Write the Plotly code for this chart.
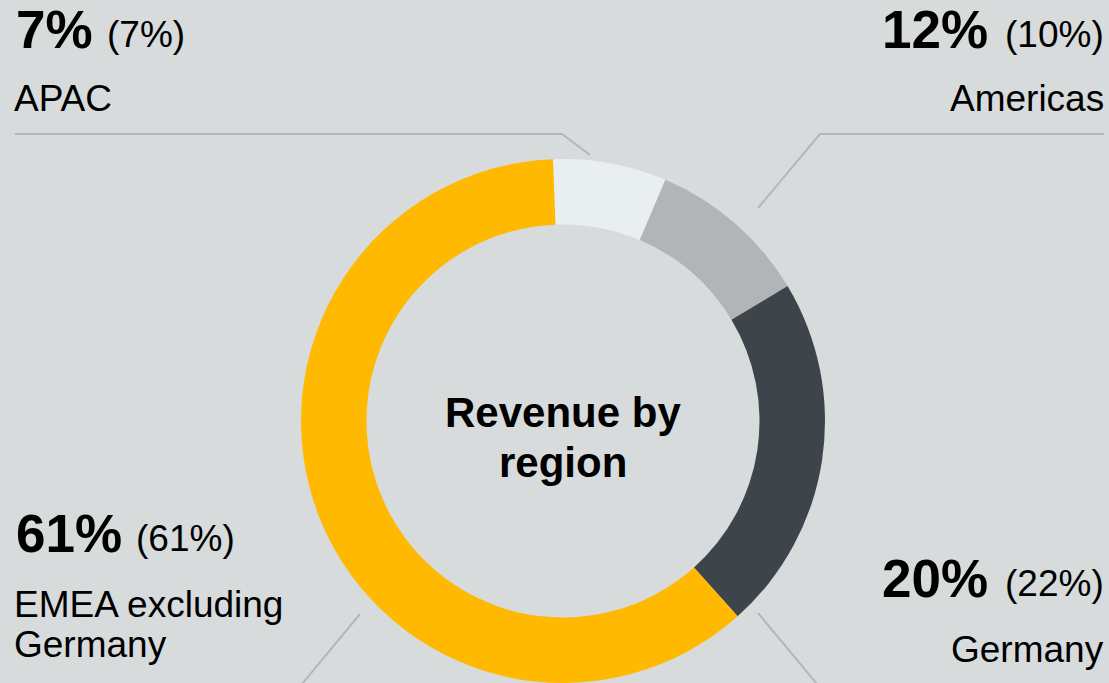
import plotly.graph_objects as go

# ---- data ----
regions = ["APAC", "Americas", "Germany", "EMEA excluding Germany"]
share_current = [7, 12, 20, 61]      # bold figures
share_prior = [7, 10, 22, 61]        # figures in parentheses (ring drawn from these)
colors = ["#e9eef1", "#b1b5b8", "#3d454b", "#ffb900"]
center_title = ["Revenue by", "region"]

W, H = 1109, 683
BG = "#d7dbdc"
LINE = "#b3b7b9"
FONT = "Liberation Sans, Arial, sans-serif"

def px(x):
    return x / W

def py(y):
    return 1 - y / H

cx, cy, r = 563, 421, 262

fig = go.Figure()
fig.add_trace(go.Pie(
    values=share_prior,
    labels=regions,
    hole=0.75,
    sort=False,
    direction="clockwise",
    rotation=-2.2,
    textinfo="none",
    hoverinfo="label+percent",
    marker=dict(colors=colors, line=dict(width=0)),
    domain=dict(x=[px(cx - r), px(cx + r)], y=[py(cy + r), py(cy - r)]),
    showlegend=False,
))

ann = []

def txt(x, y, s, size, bold=False, anchor="left"):
    ann.append(dict(
        x=px(x), y=py(y), xref="paper", yref="paper",
        text=("<b>%s</b>" % s) if bold else s,
        showarrow=False, xanchor=anchor, yanchor="middle",
        font=dict(family=FONT, size=size, color="#000000"),
    ))

BIG, MID = 53, 37
# APAC (top-left)
txt(14, 29, f"{share_current[0]}%", BIG, True, "left")
txt(105, 34, f"({share_prior[0]}%)", MID, False, "left")
txt(12, 99, regions[0], MID, False, "left")
# Americas (top-right)
txt(990, 29, f"{share_current[1]}%", BIG, True, "right")
txt(1106, 34, f"({share_prior[1]}%)", MID, False, "right")
txt(1106, 99, regions[1], MID, False, "right")
# Germany (bottom-right)
txt(990, 578, f"{share_current[2]}%", BIG, True, "right")
txt(1106, 583, f"({share_prior[2]}%)", MID, False, "right")
txt(1106, 649, regions[2], MID, False, "right")
# EMEA excl. Germany (bottom-left)
txt(14, 533, f"{share_current[3]}%", BIG, True, "left")
txt(134, 538, f"({share_prior[3]}%)", MID, False, "left")
txt(12, 604, "EMEA excluding", MID, False, "left")
txt(12, 644, "Germany", MID, False, "left")
# centre title
txt(cx, 412, center_title[0], 42, True, "center")
txt(cx, 462, center_title[1], 42, True, "center")

shapes = []

def seg(pts):
    path = "M " + " L ".join(f"{px(x)},{py(y)}" for x, y in pts)
    shapes.append(dict(type="path", xref="paper", yref="paper", path=path,
                       line=dict(color=LINE, width=2)))

seg([(15, 134), (562, 134), (590, 155)])
seg([(758, 208), (820, 134), (1104, 134)])
seg([(360, 614), (302, 684)])
seg([(758, 613), (817, 684)])

fig.update_layout(
    width=W, height=H,
    margin=dict(l=0, r=0, t=0, b=0),
    paper_bgcolor=BG, plot_bgcolor=BG,
    annotations=ann, shapes=shapes,
)

fig.write_html(
    "out.html",
    config={"displayModeBar": False},
    post_script="document.body.style.margin='0';document.body.style.overflow='hidden';document.body.style.background='%s';" % BG,
)
